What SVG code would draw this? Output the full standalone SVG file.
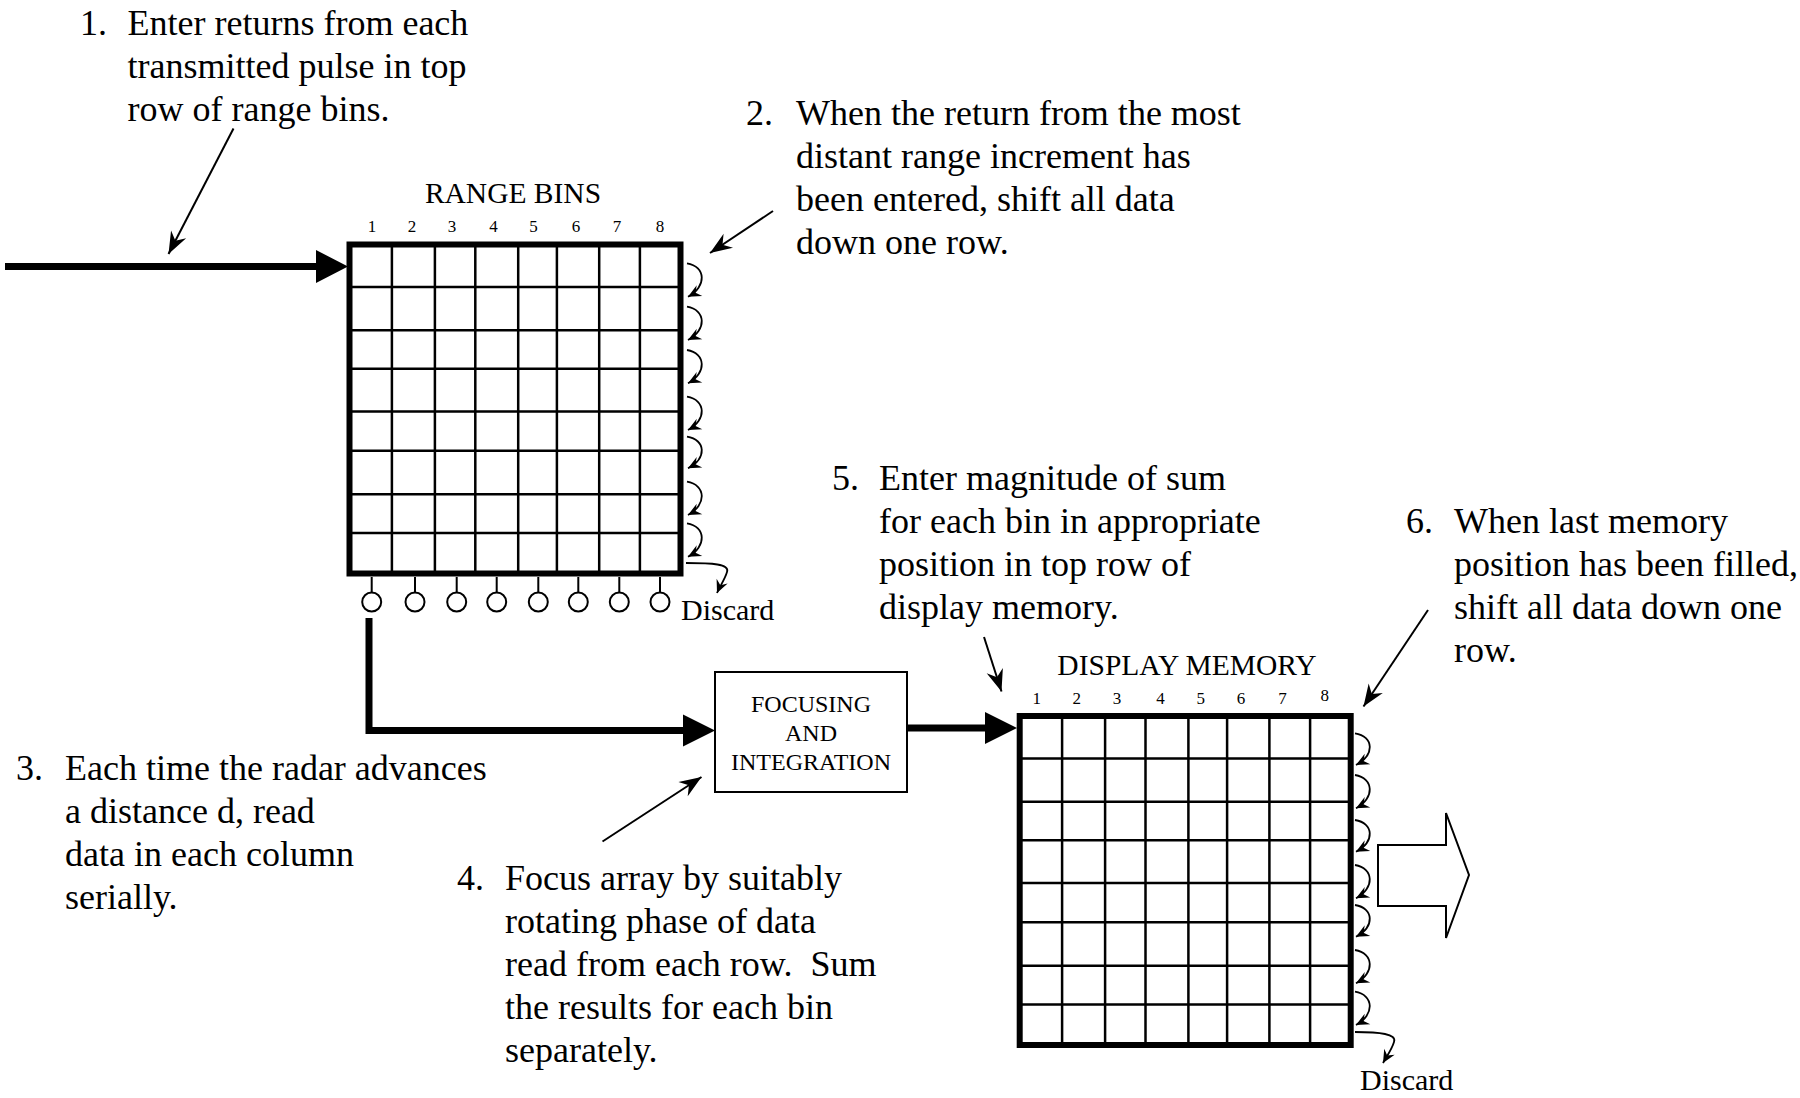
<svg xmlns="http://www.w3.org/2000/svg" width="1800" height="1098" viewBox="0 0 1800 1098">
<style>
text{font-family:"Liberation Serif","Times New Roman",serif;fill:#000}
.note{font-size:36px}
.title{font-size:29.5px;text-anchor:middle}
.digit{font-size:17px;text-anchor:middle}
.boxlabel{font-size:24px;text-anchor:middle}
.discard{font-size:30px}
.bg{fill:#fff;stroke:none}
.frame{fill:none;stroke:#000;stroke-width:6}
.cell{stroke:#000;stroke-width:2.5}
.thick{fill:none;stroke:#000;stroke-width:7}
.callout{fill:none;stroke:#000;stroke-width:2}
.shift{fill:none;stroke:#000;stroke-width:1.8}
.head{fill:#000;stroke:none}
.stub{stroke:#000;stroke-width:2}
.port{fill:#fff;stroke:#000;stroke-width:2}
.box{fill:#fff;stroke:#000;stroke-width:2}
.out{fill:#fff;stroke:#000;stroke-width:2}
</style>
<defs>
<marker id="callhead" markerUnits="userSpaceOnUse" viewBox="-24 -10 26 20" refX="0" refY="0" markerWidth="26" markerHeight="20" orient="auto"><path d="M0,0 L-22,-8.5 L-15,0 L-22,8.5 Z" fill="#000"/></marker>
<marker id="shifthead" markerUnits="userSpaceOnUse" viewBox="-14 -8 16 16" refX="0" refY="0" markerWidth="16" markerHeight="16" orient="auto"><path d="M0,0 L-13,-6 L-8.5,0 L-13,6 Z" fill="#000"/></marker>
<g id="grid">
<rect class="bg" x="0" y="0" width="331" height="329"/>
<path class="cell" d="M42.4,0V329M85.4,0V329M125.8,0V329M168.7,0V329M207.4,0V329M249.7,0V329M290.4,0V329M0,42.5H331M0,85.8H331M0,124.2H331M0,167H331M0,206.3H331M0,249.7H331M0,288.4H331"/>
<rect class="frame" x="0" y="0" width="331" height="329"/>
</g>
</defs>
<rect x="0" y="0" width="1800" height="1098" fill="#fff"/>

<g id="connectors">
<line class="thick" x1="5" y1="266.5" x2="318" y2="266.5"/>
<polygon class="head" points="316,250 348,266.5 316,283"/>
<polyline class="thick" points="369,618 369,730.5 685,730.5"/>
<polygon class="head" points="683,714.5 715,730.5 683,746.5"/>
<line class="thick" x1="907" y1="728" x2="987" y2="728"/>
<polygon class="head" points="985,712 1017,728 985,744"/>
<line class="callout" x1="233.5" y1="128.5" x2="168.5" y2="254" marker-end="url(#callhead)"/>
<line class="callout" x1="773" y1="211" x2="710" y2="253" marker-end="url(#callhead)"/>
<line class="callout" x1="602.5" y1="841.5" x2="701.5" y2="777" marker-end="url(#callhead)"/>
<line class="callout" x1="984" y1="637" x2="1001.5" y2="691.5" marker-end="url(#callhead)"/>
<line class="callout" x1="1428" y1="610" x2="1363.5" y2="706.5" marker-end="url(#callhead)"/>
<path class="shift" marker-end="url(#shifthead)" d="M687,263.3 C706,266.3 707,286.7 688,296.7"/>
<path class="shift" marker-end="url(#shifthead)" d="M687,306.7 C706,309.7 707,330 688,340"/>
<path class="shift" marker-end="url(#shifthead)" d="M687,350 C706,353 707,373.3 688,383.3"/>
<path class="shift" marker-end="url(#shifthead)" d="M687,396.7 C706,399.7 707,420 688,430"/>
<path class="shift" marker-end="url(#shifthead)" d="M687,436.7 C706,439.7 707,458.3 688,468.3"/>
<path class="shift" marker-end="url(#shifthead)" d="M687,481.7 C706,484.7 707,505 688,515"/>
<path class="shift" marker-end="url(#shifthead)" d="M687,523.3 C706,526.3 707,546.7 688,556.7"/>
<path class="shift" marker-end="url(#shifthead)" d="M686,563 C712,563 730,564 727,572 C725,579 720,586 717,593"/>
<path class="shift" marker-end="url(#shifthead)" d="M1355,733.3 C1374,736.3 1375,755 1356,765"/>
<path class="shift" marker-end="url(#shifthead)" d="M1355,775 C1374,778 1375,798.3 1356,808.3"/>
<path class="shift" marker-end="url(#shifthead)" d="M1355,820 C1374,823 1375,841.7 1356,851.7"/>
<path class="shift" marker-end="url(#shifthead)" d="M1355,865 C1374,868 1375,888.3 1356,898.3"/>
<path class="shift" marker-end="url(#shifthead)" d="M1355,905 C1374,908 1375,926.7 1356,936.7"/>
<path class="shift" marker-end="url(#shifthead)" d="M1355,950 C1374,953 1375,973.3 1356,983.3"/>
<path class="shift" marker-end="url(#shifthead)" d="M1355,991.7 C1374,994.7 1375,1015 1356,1025"/>
<path class="shift" marker-end="url(#shifthead)" d="M1355,1032 C1380,1032 1397,1034 1394,1042 C1392,1049 1387,1056 1383,1063"/>
</g>

<g id="range-bins">
<text class="title" x="513" y="203">RANGE BINS</text>
<text class="digit" y="232"><tspan x="372">1</tspan><tspan x="412">2</tspan><tspan x="452">3</tspan><tspan x="493.5">4</tspan><tspan x="533.5">5</tspan><tspan x="576">6</tspan><tspan x="617">7</tspan><tspan x="660">8</tspan></text>
<use href="#grid" x="349.5" y="244.5"/>
<path class="stub" d="M371.7,577V592.5M415,577V592.5M456.7,577V592.5M496.7,577V592.5M538.3,577V592.5M578.3,577V592.5M619.3,577V592.5M660,577V592.5"/>
<circle class="port" cx="371.7" cy="602" r="9.5"/>
<circle class="port" cx="415" cy="602" r="9.5"/>
<circle class="port" cx="456.7" cy="602" r="9.5"/>
<circle class="port" cx="496.7" cy="602" r="9.5"/>
<circle class="port" cx="538.3" cy="602" r="9.5"/>
<circle class="port" cx="578.3" cy="602" r="9.5"/>
<circle class="port" cx="619.3" cy="602" r="9.5"/>
<circle class="port" cx="660" cy="602" r="9.5"/>
<text class="discard" x="681" y="620">Discard</text>
</g>

<g id="focusing-integration">
<rect class="box" x="715" y="672" width="192" height="120"/>
<text class="boxlabel" x="811" y="712">FOCUSING</text>
<text class="boxlabel" x="811" y="741">AND</text>
<text class="boxlabel" x="811" y="770">INTEGRATION</text>
</g>

<g id="display-memory">
<text class="title" x="1187" y="675">DISPLAY MEMORY</text>
<text class="digit" y="704"><tspan x="1036.7">1</tspan><tspan x="1076.8">2</tspan><tspan x="1117">3</tspan><tspan x="1160.5">4</tspan><tspan x="1200.8">5</tspan><tspan x="1241">6</tspan><tspan x="1282.4">7</tspan><tspan x="1324.8" dy="-3">8</tspan></text>
<use href="#grid" x="1019.7" y="716"/>
<text class="discard" x="1360" y="1090">Discard</text>
</g>

<g id="output-arrow">
<polygon class="out" points="1378,845 1446,845 1446,813 1469,875 1446,938 1446,906 1378,906"/>
</g>

<g id="note-1">
<text class="note" x="80" y="35">1.</text>
<text class="note"><tspan x="127.5" y="35">Enter returns from each</tspan><tspan x="127.5" y="78">transmitted pulse in top</tspan><tspan x="127.5" y="121">row of range bins.</tspan></text>
</g>
<g id="note-2">
<text class="note" x="746" y="125">2.</text>
<text class="note"><tspan x="796" y="125">When the return from the most</tspan><tspan x="796" y="168">distant range increment has</tspan><tspan x="796" y="211">been entered, shift all data</tspan><tspan x="796" y="254">down one row.</tspan></text>
</g>
<g id="note-3">
<text class="note" x="16" y="780">3.</text>
<text class="note"><tspan x="65" y="780">Each time the radar advances</tspan><tspan x="65" y="823">a distance d, read</tspan><tspan x="65" y="866">data in each column</tspan><tspan x="65" y="909">serially.</tspan></text>
</g>
<g id="note-4">
<text class="note" x="457" y="890">4.</text>
<text class="note" style="white-space:pre"><tspan x="505" y="890">Focus array by suitably</tspan><tspan x="505" y="933">rotating phase of data</tspan><tspan x="505" y="976">read from each row.  Sum</tspan><tspan x="505" y="1019">the results for each bin</tspan><tspan x="505" y="1062">separately.</tspan></text>
</g>
<g id="note-5">
<text class="note" x="832" y="490">5.</text>
<text class="note"><tspan x="879" y="490">Enter magnitude of sum</tspan><tspan x="879" y="533">for each bin in appropriate</tspan><tspan x="879" y="576">position in top row of</tspan><tspan x="879" y="619">display memory.</tspan></text>
</g>
<g id="note-6">
<text class="note" x="1406" y="533">6.</text>
<text class="note"><tspan x="1454" y="533">When last memory</tspan><tspan x="1454" y="576">position has been filled,</tspan><tspan x="1454" y="619">shift all data down one</tspan><tspan x="1454" y="662">row.</tspan></text>
</g>
</svg>
